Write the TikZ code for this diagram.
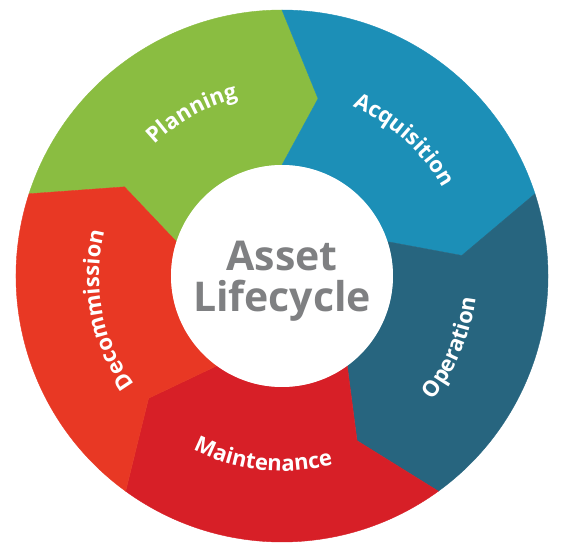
\documentclass[tikz,border=0pt]{standalone}
\usepackage{fontspec}
\setmainfont{Open Sans}
\usepackage{xcolor}
\definecolor{cPlan}{HTML}{8ABD41}
\definecolor{cAcq}{HTML}{1C8FB7}
\definecolor{cOper}{HTML}{27657F}
\definecolor{cMaint}{HTML}{D71F27}
\definecolor{cDecom}{HTML}{E83824}
\definecolor{cHub}{HTML}{7F8082}
\usepackage{tikz}
\usetikzlibrary{decorations.text}
\newcommand\ringfont{\fontsize{22}{22}\selectfont\bfseries}
\tikzset{
  ring-seg/.style={line width=0.4pt,line join=round},
  ring-label/.style={decorate,decoration={text along path,
    text align=center,text color=white}},
  hub-text/.style={text=cHub,align=center,inner sep=0pt,
    font=\fontsize{41}{41}\selectfont\bfseries},
}

\begin{document}
\begin{tikzpicture}
  \useasboundingbox (-282pt,-275pt) rectangle (286pt,276pt);
  % five arrow-shaped ring parts, clockwise flow
  \fill[ring-seg,cPlan,draw=cPlan]   (90:266pt) arc[start angle=90,end angle=162,radius=266pt]
    -- (150.5:181pt) -- (162:111pt) arc[start angle=162,end angle=90,radius=111pt]
    -- (78.5:181pt) -- cycle;
  \fill[ring-seg,cAcq,draw=cAcq]     (18:266pt) arc[start angle=18,end angle=90,radius=266pt]
    -- (78.5:181pt) -- (90:111pt) arc[start angle=90,end angle=18,radius=111pt]
    -- (6.5:181pt) -- cycle;
  \fill[ring-seg,cOper,draw=cOper]   (-54:266pt) arc[start angle=-54,end angle=18,radius=266pt]
    -- (6.5:181pt) -- (18:111pt) arc[start angle=18,end angle=-54,radius=111pt]
    -- (-65.5:181pt) -- cycle;
  \fill[ring-seg,cMaint,draw=cMaint] (-126:266pt) arc[start angle=-126,end angle=-54,radius=266pt]
    -- (-65.5:181pt) -- (-54:111pt) arc[start angle=-54,end angle=-126,radius=111pt]
    -- (-137.5:181pt) -- cycle;
  \fill[ring-seg,cDecom,draw=cDecom] (-198:266pt) arc[start angle=-198,end angle=-126,radius=266pt]
    -- (-137.5:181pt) -- (-126:111pt) arc[start angle=-126,end angle=-198,radius=111pt]
    -- (-209.5:181pt) -- cycle;
  \fill[white] (0,0) circle[radius=111pt];
  \node[hub-text] (hub) at (0pt,-5pt) {Asset\\Lifecycle};
  % labels along the ring
  \path[ring-label,decoration={text={|\ringfont|Planning}}]
    (154:183pt) arc[start angle=154,end angle=84,radius=183pt];
  \path[ring-label,decoration={text={|\ringfont|Acquisition}}]
    (83:183pt) arc[start angle=83,end angle=13,radius=183pt];
  \path[ring-label,decoration={text={|\ringfont|Operation}}]
    (-58:195pt) arc[start angle=-58,end angle=12,radius=195pt];
  \path[ring-label,decoration={text={|\ringfont|Maintenance}}]
    (-131:195pt) arc[start angle=-131,end angle=-61,radius=195pt];
  \path[ring-label,decoration={text={|\ringfont|Decommission}}]
    (226:183pt) arc[start angle=226,end angle=156,radius=183pt];
\end{tikzpicture}
\end{document}
